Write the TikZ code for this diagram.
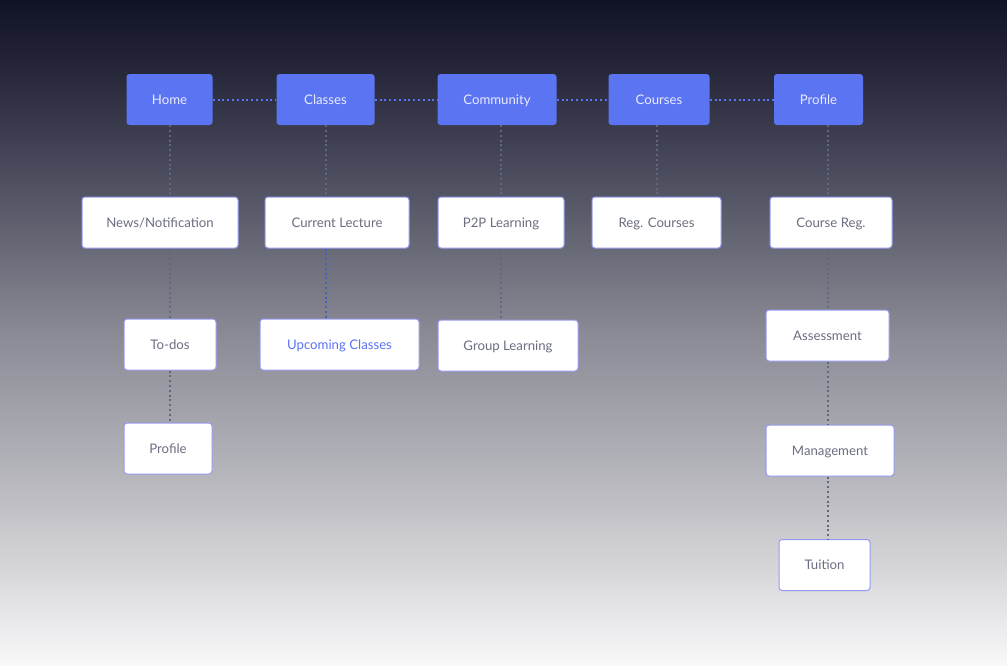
\documentclass[tikz,border=0pt]{standalone}
\usepackage{fontspec}
\setmainfont{Lato}

\definecolor{navblue}{HTML}{5B74F2}
\definecolor{navtext}{HTML}{E8EBFF}
\definecolor{boxline}{HTML}{9499F0}
\definecolor{boxtext}{HTML}{6B6E80}
\definecolor{stemgray}{HTML}{64667A}
\definecolor{bgtop}{HTML}{111226}
\definecolor{bgtwo}{HTML}{242637}
\definecolor{bgthree}{HTML}{484A5B}
\definecolor{bgmid}{HTML}{898A94}
\definecolor{bgfive}{HTML}{BDBDC3}
\definecolor{bgsix}{HTML}{E1E1E4}
\definecolor{bgbot}{HTML}{F8F8F9}

\pgfdeclareverticalshading{backdrop}{100bp}{color(0bp)=(bgbot); color(25bp)=(bgbot);
  color(30bp)=(bgsix); color(37.5bp)=(bgfive); color(50bp)=(bgmid);
  color(62.5bp)=(bgthree); color(70bp)=(bgtwo); color(75bp)=(bgtop); color(100bp)=(bgtop)}

\tikzset{
  navbox/.style={fill=navblue, rounded corners=3pt, text=navtext, minimum height=51pt,
    text height=9.5pt, text depth=0pt, font=\fontsize{13.2}{15}\selectfont},
  pagebox/.style={fill=white, draw=boxline, line width=1pt, rounded corners=3pt, text=boxtext,
    minimum height=51pt, text height=9.5pt, text depth=0pt, font=\fontsize{13.2}{15}\selectfont},
  navlink/.style={navblue, line width=2pt, dash pattern=on 2pt off 2.8pt},
  stem/.style={stemgray, line width=2pt, dash pattern=on 2pt off 2.8pt}
}

\begin{document}
\begin{tikzpicture}[x=1pt, y=-1pt]
	\useasboundingbox (0, 0) rectangle (1007, 665);
	\shade[shading=backdrop] (0, 0) rectangle (1007, 665);
	% top bar
	\node[navbox, minimum width=86pt] (home) at (169.5, 99.5) {Home};
	\node[navbox, minimum width=98pt] (classes) at (325.5, 99.5) {Classes};
	\node[navbox, minimum width=119pt] (community) at (497, 99.5) {Community};
	\node[navbox, minimum width=101pt] (courses) at (659, 99.5) {Courses};
	\node[navbox, minimum width=89pt] (profile) at (818.5, 99.5) {Profile};
	% first level
	\node[pagebox, minimum width=156pt] (news) at (160, 222.5) {News/Notification};
	\node[pagebox, minimum width=144pt] (lecture) at (337, 222.5) {Current Lecture};
	\node[pagebox, minimum width=126pt] (p2p) at (501, 222.5) {P2P Learning};
	\node[pagebox, minimum width=129pt] (regcourses) at (656.5, 222.5) {Reg. Courses};
	\node[pagebox, minimum width=122pt] (coursereg) at (831, 222.5) {Course Reg.};
	% second level
	\node[pagebox, minimum width=92pt] (todos) at (170, 344.5) {To-dos};
	\node[pagebox, minimum width=159pt, text=navblue] (upcoming) at (339.5, 344.5) {Upcoming Classes};
	\node[pagebox, minimum width=140pt] (group) at (508, 345.5) {Group Learning};
	\node[pagebox, minimum width=123pt] (assess) at (827.5, 335.5) {Assessment};
	% further down
	\node[pagebox, minimum width=88pt] (userprofile) at (168, 448.5) {Profile};
	\node[pagebox, minimum width=128pt] (manage) at (830, 450.5) {Management};
	\node[pagebox, minimum width=91pt] (tuition) at (824.5, 565) {Tuition};
	% links along the top
	\draw[navlink] (home) -- (classes);
	\draw[navlink] (classes) -- (community);
	\draw[navlink] (community) -- (courses);
	\draw[navlink] (courses) -- (profile);
	% stems
	\draw[stem] (home.south) -- (home.south |- news.north);
	\draw[stem] (todos.north |- news.south) -- (todos.north);
	\draw[stem] (todos.south) -- (todos.south |- userprofile.north);
	\draw[stem] (classes.south) -- (classes.south |- lecture.north);
	\draw[navlink, navblue!80!black] (classes.south |- lecture.south) -- (classes.south |- upcoming.north);
	\draw[stem] (p2p.north |- community.south) -- (p2p.north);
	\draw[stem] (p2p.south) -- (p2p.south |- group.north);
	\draw[stem] (regcourses.north |- courses.south) -- (regcourses.north);
	\draw[stem] (assess.north |- profile.south) -- (assess.north |- coursereg.north);
	\draw[stem] (assess.north |- coursereg.south) -- (assess.north);
	\draw[stem] (assess.south) -- (assess.south |- manage.north);
	\draw[stem] (assess.south |- manage.south) -- (assess.south |- tuition.north);
\end{tikzpicture}
\end{document}
